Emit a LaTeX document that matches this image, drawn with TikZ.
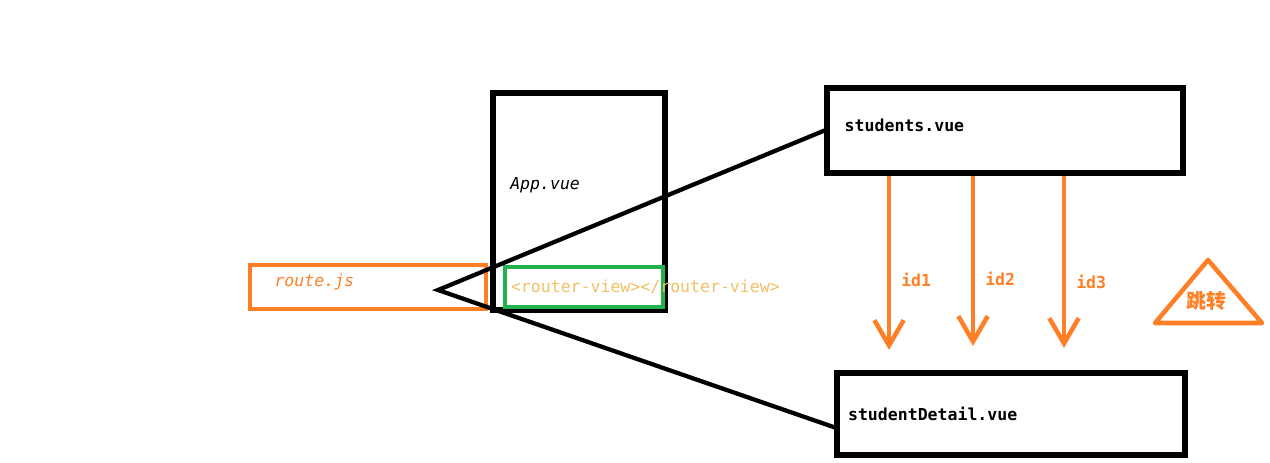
\documentclass[tikz,border=0pt]{standalone}
\usepackage{fontspec}
\setmonofont{DejaVu Sans Mono}
\newfontfamily\cjk{Noto Sans CJK SC}
\usepackage{tikz}
\usetikzlibrary{arrows.meta,positioning}
\definecolor{paintorange}{RGB}{255,127,39}
\definecolor{paintgreen}{RGB}{34,177,76}
\definecolor{tagcol}{RGB}{239,192,100}
\tikzset{blackbox/.style={draw=black,line width=3.8pt,inner sep=0pt},
         orangebox/.style={draw=paintorange,line width=3.6pt,inner sep=0pt},
         greenbox/.style={draw=paintgreen,line width=3.4pt,inner sep=0pt},
         lbl/.style={inner sep=0pt,font=\ttfamily\fontsize{12.4}{14}\selectfont},
         jump/.style={paintorange,line width=3.4pt,-{Straight Barb[length=19pt,width=22pt,line width=3.4pt]}},
         link/.style={black,line width=3.2pt,line cap=round}}

\begin{document}
\begin{tikzpicture}[x=0.75pt,y=-0.75pt]
\useasboundingbox (0,0) rectangle (1270,462);
% boxes
\node[orangebox,minimum width=177pt,minimum height=33pt] (route) at (368,287) {};
\node[blackbox,minimum width=129pt,minimum height=162.75pt] (app) at (579,201.5) {};
\node[greenbox,minimum width=118.5pt,minimum height=30pt] (view) at (584,287) {};
\node[blackbox,minimum width=267pt,minimum height=63.75pt] (students) at (1005,130.5) {};
\node[blackbox,minimum width=261pt,minimum height=61.5pt] (detail) at (1011,414) {};
% texts
\node[lbl,paintorange,font=\ttfamily\itshape\fontsize{12.4}{14}\selectfont,right=20pt of route.west,yshift=3.5pt] (routetxt) {route.js};
\node[lbl,font=\ttfamily\itshape\fontsize{12.4}{14}\selectfont,anchor=west] (apptxt) at (510,185) {App.vue};
\node[lbl,tagcol,right=6pt of view.west] (viewtxt) {<router-view></router-view>};
\node[lbl,font=\ttfamily\bfseries\fontsize{12.4}{14}\selectfont,right=15pt of students.west,yshift=4pt] (stutxt) {students.vue};
\node[lbl,font=\ttfamily\bfseries\fontsize{12.4}{14}\selectfont,right=10pt of detail.west] (dettxt) {studentDetail.vue};
% route.js points into App.vue
\coordinate (tip) at (438,290);
\draw[link] (students.west) -- (tip) -- ([yshift=-10pt]detail.west);
% id jumps
\coordinate (a1) at (889,350);
\coordinate (a2) at (973,346);
\coordinate (a3) at (1064,348);
\foreach \a/\t/\ly in {a1/id1/280,a2/id2/279,a3/id3/282}{
  \draw[jump] (\a |- students.south) -- (\a);
  \node[lbl,paintorange,font=\ttfamily\bfseries\fontsize{12.4}{14}\selectfont,anchor=west] at ([xshift=9pt]\a |- 0,\ly) {\t};
}
% legend triangle
\draw[paintorange,line width=3.4pt,line join=round] (1208,260) -- (1262,323) -- (1155,323) -- cycle;
\node[paintorange,inner sep=0pt,font=\cjk\bfseries\fontsize{15}{17}\selectfont] (jumptxt) at (1206,301) {跳转};
\end{tikzpicture}
\end{document}
